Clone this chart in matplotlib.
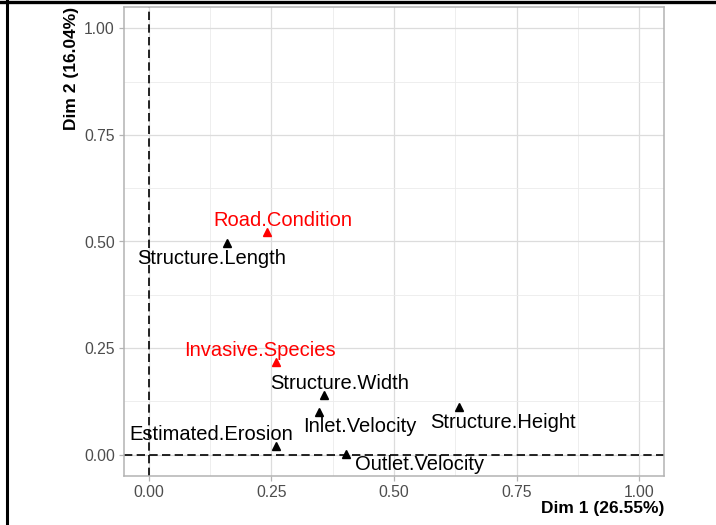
import numpy as np
import matplotlib.pyplot as plt
from matplotlib.lines import Line2D
from matplotlib.ticker import MultipleLocator

plt.rcParams["font.family"] = ["Liberation Sans", "DejaVu Sans"]

# variable coordinates on the first two dimensions
variables = ["Structure.Length", "Road.Condition", "Invasive.Species",
             "Structure.Width", "Inlet.Velocity", "Estimated.Erosion",
             "Outlet.Velocity", "Structure.Height"]
dim1 = [0.159, 0.242, 0.260, 0.358, 0.347, 0.260, 0.403, 0.633]
dim2 = [0.496, 0.523, 0.217, 0.139, 0.100, 0.021, 0.002, 0.113]
supplementary = [False, True, True, False, False, False, False, False]

# label offsets (data units) so the text does not sit on the marker
label_dx = [-0.031, 0.031, -0.033, 0.031, 0.083, -0.132, 0.149, 0.089]
label_dy = [-0.036, 0.026, 0.027, 0.029, -0.035, 0.027, -0.025, -0.037]

W, H = 716, 525
fig = plt.figure(figsize=(W / 100, H / 100), dpi=100)
ax = fig.add_axes([124 / W, 1 - 476 / H, (664 - 124) / W, (476 - 7) / H])

ax.set_xlim(-0.05, 1.05)
ax.set_ylim(-0.05, 1.05)
ax.xaxis.set_major_locator(MultipleLocator(0.25))
ax.yaxis.set_major_locator(MultipleLocator(0.25))
ax.xaxis.set_minor_locator(MultipleLocator(0.125))
ax.yaxis.set_minor_locator(MultipleLocator(0.125))
ax.xaxis.set_major_formatter(lambda v, p: f"{v:.2f}")
ax.yaxis.set_major_formatter(lambda v, p: f"{v:.2f}")

ax.grid(which="major", color="#DCDCDC", linewidth=0.9)
ax.grid(which="minor", color="#EBEBEB", linewidth=0.6)
ax.set_axisbelow(True)
for s in ax.spines.values():
    s.set_color("#B3B3B3")
    s.set_linewidth(1.1)
ax.tick_params(which="major", length=3.5, color="#B3B3B3", width=0.9,
               labelsize=11.3, labelcolor="#4D4D4D", pad=3)
ax.tick_params(which="minor", length=0)

ax.axvline(0, color="black", linestyle=(0, (5, 2.6)), linewidth=1.2, zorder=2)
ax.axhline(0, color="black", linestyle=(0, (5, 2.6)), linewidth=1.2, zorder=2)

for name, x, y, sup, dx, dy in zip(variables, dim1, dim2, supplementary,
                                   label_dx, label_dy):
    col = "#FF0000" if sup else "black"
    ax.plot(x, y, marker="^", markersize=6, color=col, linestyle="none", zorder=3)
    ax.text(x + dx, y + dy, name, color=col, fontsize=14.5, ha="center",
            va="center", zorder=4)

ax.set_xlabel("Dim 1 (26.55%)", fontsize=12.5, fontweight="bold",
              loc="right", labelpad=1)
ax.set_ylabel("Dim 2 (16.04%)", fontsize=12.5, fontweight="bold",
              loc="top", labelpad=4)

# black frame along the top and left edges
fig.add_artist(Line2D([0, 1], [1 - 1.5 / H, 1 - 1.5 / H],
                      transform=fig.transFigure, color="black", linewidth=2.4))
fig.add_artist(Line2D([6.5 / W, 6.5 / W], [0, 1], transform=fig.transFigure,
                      color="black", linewidth=2.2))

fig.savefig("out.png", dpi=100, facecolor="white")
